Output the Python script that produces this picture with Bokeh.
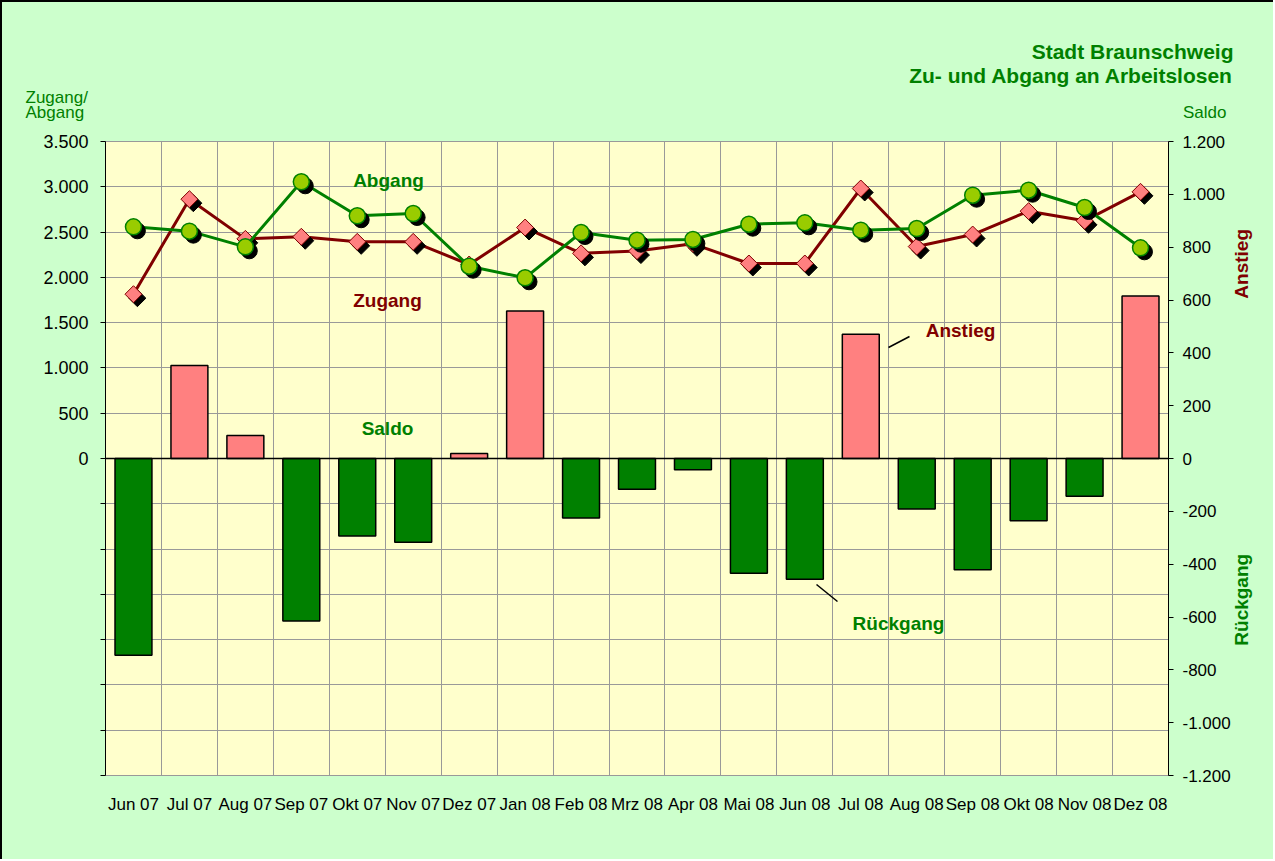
import math
from bokeh.plotting import figure
from bokeh.layouts import column, row
from bokeh.models import (FactorRange, Range1d, LinearAxis, FixedTicker, Span,
                          Label, ColumnDataSource, Arrow)
from bokeh.transform import dodge
from bokeh.embed import file_html
from bokeh.resources import INLINE

# ---------------- data ----------------
months = ["Jun 07", "Jul 07", "Aug 07", "Sep 07", "Okt 07", "Nov 07", "Dez 07",
          "Jan 08", "Feb 08", "Mrz 08", "Apr 08", "Mai 08", "Jun 08", "Jul 08",
          "Aug 08", "Sep 08", "Okt 08", "Nov 08", "Dez 08"]
zugang = [1814, 2863, 2425, 2448, 2392, 2392, 2142, 2550, 2265, 2290, 2370,
          2153, 2153, 2981, 2340, 2473, 2731, 2624, 2944]
abgang = [2558, 2510, 2337, 3055, 2680, 2705, 2123, 1995, 2495, 2410, 2418,
          2587, 2602, 2521, 2539, 2907, 2962, 2771, 2326]
saldo = [-745, 352, 87, -615, -293, -317, 19, 558, -225, -116, -43,
         -434, -457, 470, -191, -421, -236, -143, 615]

left_ticks = list(range(-3500, 3501, 500))
right_ticks = list(range(-1200, 1201, 200))

title_lines = ["Stadt Braunschweig", "Zu- und Abgang an Arbeitslosen"]
left_axis_title = ["Zugang/", "Abgang"]
right_axis_title = "Saldo"


def de_fmt(v):
    return f"{v:,}".replace(",", ".")


left_labels = {t: (de_fmt(t) if t >= 0 else "") for t in left_ticks}
right_labels = {t: de_fmt(t) for t in right_ticks}

# ---------------- styling ----------------
FONT = "Liberation Sans"
GREEN = "#008000"
DARKRED = "#800000"
PINK = "#FF8080"
LIME = "#99CC00"
OUTER = "#CCFFCC"
INNER = "#FFFFCC"

W, H = 1275, 861
HEAD_H = 125          # header strip height (page px)
MAIN_W = 1233         # main figure width incl. 2px border
BORDER = 2

# ---------------- header (texts above the plot area) ----------------
head = figure(width=W - BORDER, height=HEAD_H - BORDER, output_backend="svg",
              toolbar_location=None, x_axis_type=None, y_axis_type=None,
              x_range=Range1d(BORDER, W), y_range=Range1d(HEAD_H, BORDER),
              min_border=0, outline_line_color=None,
              background_fill_color=OUTER, border_fill_color=OUTER)
head.styles = {"border-left": "2px solid black", "border-top": "2px solid black"}
head.grid.visible = False


def head_label(text, x, y, size, bold, align):
    head.add_layout(Label(x=x, y=y, text=text, text_font=FONT,
                          text_font_size=size,
                          text_font_style="bold" if bold else "normal",
                          text_color=GREEN, text_align=align,
                          text_baseline="alphabetic"))


head_label(title_lines[0], 1233, 51, "21px", True, "right")
head_label(title_lines[1], 1233, 75, "21px", True, "right")
head_label(right_axis_title, 1226, 112, "17px", False, "right")
head_label(left_axis_title[0], 25, 97, "17px", False, "left")
head_label(left_axis_title[1], 25, 112, "17px", False, "left")

# ---------------- main chart ----------------
bar_colors = [PINK if v >= 0 else GREEN for v in saldo]
src = ColumnDataSource(dict(month=months, zugang=zugang, abgang=abgang,
                            saldo=saldo, color=bar_colors))

FL, FT, FR, FB = 105, 143, 1169, 777   # plot frame in page px
MAIN_H = H - HEAD_H

p = figure(x_range=FactorRange(*months), y_range=Range1d(-3500, 3500),
           width=MAIN_W - BORDER, height=MAIN_H, output_backend="svg",
           toolbar_location=None,
           min_border_left=FL - BORDER, min_border_right=MAIN_W - FR,
           min_border_top=FT - HEAD_H, min_border_bottom=H - FB,
           background_fill_color=INNER, border_fill_color=OUTER,
           outline_line_color="#999999")
p.styles = {"border-left": "2px solid black"}
p.extra_y_ranges = {"saldo": Range1d(-1200, 1200)}

# left axis
ya = p.yaxis[0]
ya.ticker = FixedTicker(ticks=left_ticks)
ya.major_label_overrides = left_labels
ya.minor_tick_line_color = None
ya.major_tick_in = 0
ya.major_tick_out = 5
ya.major_label_standoff = 12
ya.axis_line_color = "black"
ya.major_tick_line_color = "black"
ya.major_label_text_font = FONT
ya.major_label_text_font_size = "18px"
ya.major_label_text_color = "black"

# right axis
ra = LinearAxis(y_range_name="saldo", ticker=FixedTicker(ticks=right_ticks))
ra.major_label_overrides = right_labels
ra.minor_tick_line_color = None
ra.major_tick_in = 0
ra.major_tick_out = 5
ra.major_label_standoff = 9
ra.axis_line_color = "black"
ra.major_tick_line_color = "black"
ra.major_label_text_font = FONT
ra.major_label_text_font_size = "17px"
ra.major_label_text_color = "black"
p.add_layout(ra, "right")

# x axis
xa = p.xaxis[0]
xa.axis_line_color = None
xa.major_tick_line_color = None
xa.major_tick_out = 0
xa.major_label_standoff = 19
xa.major_label_text_font = FONT
xa.major_label_text_font_size = "17px"
xa.major_label_text_color = "black"

# grids
p.ygrid.grid_line_color = "#999999"
p.ygrid.grid_line_width = 1
p.xgrid.ticker = FixedTicker(ticks=list(range(1, len(months))))
p.xgrid.grid_line_color = "#999999"
p.xgrid.grid_line_width = 1

# bars (Saldo)
p.vbar(x="month", top="saldo", bottom=0, width=0.66, source=src,
       y_range_name="saldo", fill_color="color", line_color="black",
       line_width=1.5)
p.add_layout(Span(location=0, dimension="width", line_color="black",
                  line_width=1.5))

# Zugang
p.line(x="month", y="zugang", source=src, line_color=DARKRED, line_width=3)
p.scatter(x=dodge("month", 0.07, range=p.x_range), y=dodge("zugang", -44),
          source=src, marker="square", angle=math.pi / 4, size=12,
          fill_color="black", line_color="black")
p.scatter(x="month", y="zugang", source=src, marker="square",
          angle=math.pi / 4, size=12, fill_color=PINK, line_color=DARKRED,
          line_width=1)

# Abgang
p.line(x="month", y="abgang", source=src, line_color=GREEN, line_width=3)
p.scatter(x=dodge("month", 0.07, range=p.x_range), y=dodge("abgang", -44),
          source=src, marker="circle", size=16,
          fill_color="black", line_color="black")
p.scatter(x="month", y="abgang", source=src, marker="circle", size=16,
          fill_color=LIME, line_color=GREEN, line_width=1.5)


def add_label(text, px, py, color, size):
    p.add_layout(Label(x=px - FL, y=FB - py, x_units="screen", y_units="screen",
                       text=text, text_font=FONT, text_font_size=size,
                       text_font_style="bold", text_color=color,
                       text_align="center", text_baseline="alphabetic"))


add_label("Abgang", 388, 182, GREEN, "19px")
add_label("Zugang", 387, 302, DARKRED, "19px")
add_label("Saldo", 387, 430, GREEN, "19px")
add_label("Anstieg", 960, 332, DARKRED, "19px")
add_label("Rückgang", 898, 625, GREEN, "19px")

# leader lines
p.add_layout(Arrow(end=None, x_start=888 - FL, y_start=FB - 349,
                   x_end=909 - FL, y_end=FB - 338,
                   start_units="screen", end_units="screen",
                   line_color="black", line_width=1.5))
p.add_layout(Arrow(end=None, x_start=816 - FL, y_start=FB - 586,
                   x_end=837 - FL, y_end=FB - 603,
                   start_units="screen", end_units="screen",
                   line_color="black", line_width=1.5))

# ---------------- right strip (rotated side labels) ----------------
side = figure(width=W - MAIN_W, height=MAIN_H, output_backend="svg",
              toolbar_location=None, x_axis_type=None, y_axis_type=None,
              x_range=Range1d(MAIN_W, W), y_range=Range1d(H, HEAD_H),
              min_border=0, outline_line_color=None,
              background_fill_color=OUTER, border_fill_color=OUTER)
side.grid.visible = False
side.add_layout(Label(x=1243, y=267, text="Anstieg", text_font=FONT,
                      text_font_size="19px", text_font_style="bold",
                      text_color=DARKRED, text_align="center",
                      text_baseline="middle", angle=math.pi / 2))
side.add_layout(Label(x=1243, y=657, text="Rückgang", text_font=FONT,
                      text_font_size="19px", text_font_style="bold",
                      text_color=GREEN, text_align="center",
                      text_baseline="middle", angle=math.pi / 2))

bg = {"background-color": OUTER}
layout = column(head, row(p, side, spacing=0, styles=bg), spacing=0, styles=bg)
open("out.html", "w").write(file_html(layout, INLINE))
